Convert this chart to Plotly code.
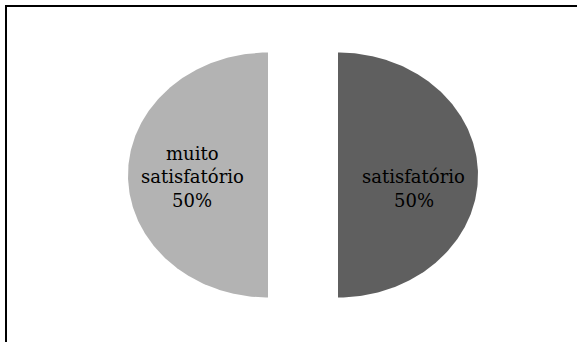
import numpy as np
import plotly.graph_objects as go

# Survey answers and their shares (%)
labels = ["satisfatório", "muito satisfatório"]
values = [50, 50]
colors = ["#5f5f5f", "#b3b3b3"]

W, H = 577, 342
CX, CY = 303, 175          # pie centre in pixels
RX, RY = 140, 122.5        # horizontal / vertical radius in pixels
PULL = 0.25                # explode distance (in radius units)
LABEL_R = 0.54             # label distance from centre (radius units)
FONT = dict(family="DejaVu Serif", size=18, color="#000000")
LINE_STEP = 23.5 / RY      # line spacing in y units
LAST_LINE_Y = -(200 - CY) / RY

fig = go.Figure()
total = sum(values)
start = 0.0  # degrees, clockwise from 12 o'clock
annotations = []
for lab, val, col in zip(labels, values, colors):
    sweep = 360.0 * val / total
    mid = np.radians(start + sweep / 2)
    dx, dy = PULL * np.sin(mid), PULL * np.cos(mid)
    theta = np.radians(np.linspace(start, start + sweep, 241))
    xs = np.concatenate([[0], np.sin(theta), [0]]) + dx
    ys = np.concatenate([[0], np.cos(theta), [0]]) + dy
    fig.add_trace(go.Scatter(
        x=xs, y=ys, mode="lines", fill="toself", fillcolor=col,
        line=dict(width=0, color=col), hoverinfo="skip", showlegend=False,
    ))
    # label: category words, then the percentage, stacked upwards from the bottom line
    lines = lab.split() + [f"{round(100 * val / total)}%"]
    lx = dx + LABEL_R * np.sin(mid)
    for k, txt in enumerate(reversed(lines)):
        annotations.append(dict(
            x=lx, y=LAST_LINE_Y + k * LINE_STEP, text=txt, showarrow=False,
            xanchor="center", yanchor="middle", font=FONT,
        ))
    start += sweep

# frame lines along the top and the left
shapes = [
    dict(type="line", xref="paper", yref="paper", x0=5 / W, x1=1, y0=1 - 6 / H, y1=1 - 6 / H,
         line=dict(color="#000000", width=2)),
    dict(type="line", xref="paper", yref="paper", x0=6 / W, x1=6 / W, y0=0, y1=1 - 5 / H,
         line=dict(color="#000000", width=2)),
]

fig.update_layout(
    width=W, height=H, margin=dict(l=0, r=0, t=0, b=0),
    paper_bgcolor="#ffffff", plot_bgcolor="#ffffff",
    xaxis=dict(range=[-CX / RX, (W - CX) / RX], visible=False, fixedrange=True),
    yaxis=dict(range=[-(H - CY) / RY, CY / RY], visible=False, fixedrange=True),
    annotations=annotations, shapes=shapes, showlegend=False,
)

fig.write_html("out.html", config=dict(displayModeBar=False))
